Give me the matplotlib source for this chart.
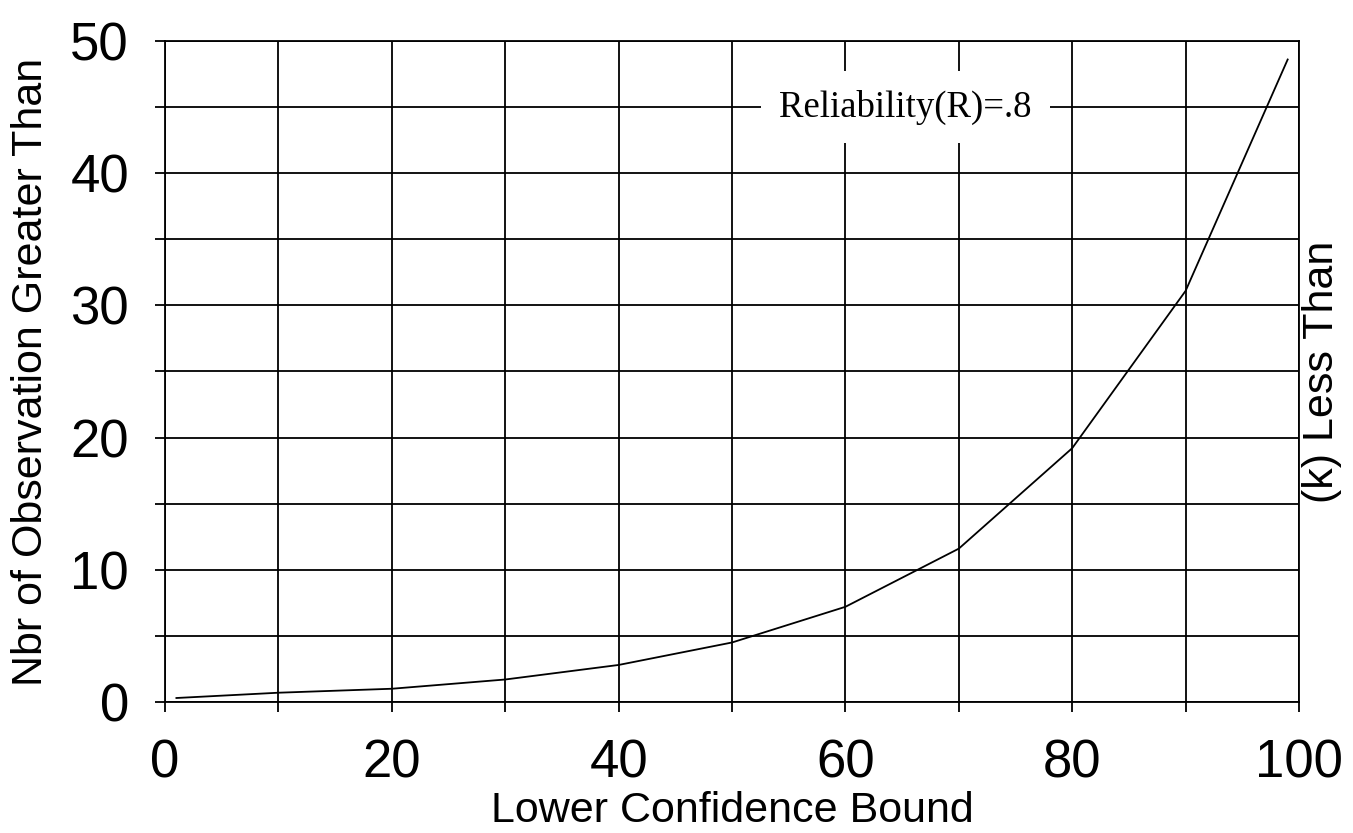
import matplotlib
matplotlib.use('Agg')
import matplotlib.pyplot as plt
from matplotlib.ticker import MultipleLocator

bound = [1, 10, 20, 30, 40, 50, 60, 70, 80, 90, 99]
nbr_obs = [0.3, 0.7, 1.0, 1.7, 2.8, 4.5, 7.2, 11.6, 19.2, 31.1, 48.6]

x_ticks = [0, 20, 40, 60, 80, 100]
y_ticks = [0, 10, 20, 30, 40, 50]

plt.rcParams['font.family'] = ['Liberation Sans', 'DejaVu Sans']

fig = plt.figure(figsize=(13.53, 8.33), dpi=100)
ax = fig.add_axes([0.122, 0.1573, 0.8381, 0.7935])

ax.plot(bound, nbr_obs, color='black', linewidth=1.3, zorder=3)

ax.set_xlim(0, 100)
ax.set_ylim(0, 50)
ax.set_xticks(x_ticks)
ax.set_yticks(y_ticks)
ax.xaxis.set_minor_locator(MultipleLocator(10))
ax.yaxis.set_minor_locator(MultipleLocator(5))
ax.grid(True, which='both', color='black', linewidth=1.3)
ax.set_axisbelow(True)
ax.tick_params(which='both', direction='out', length=7, width=1.3, color='black')
ax.tick_params(which='major', labelsize=38, pad=19)
for s in ax.spines.values():
    s.set_linewidth(1.3)

ax.set_xlabel('Lower Confidence Bound', fontsize=31, labelpad=2)
ax.set_ylabel('Nbr of Observation Greater Than', fontsize=31, labelpad=14)
fig.text(1322 / 1353, 1 - 372 / 833, '(k) Less Than', fontsize=31,
         rotation=90, ha='center', va='center')

ax.text(65.3, 45.0, 'Reliability(R)=.8', fontsize=26.5, family='Liberation Serif',
        ha='center', va='center', zorder=4,
        bbox=dict(facecolor='white', edgecolor='none', pad=13))

fig.savefig('out.png', dpi=100)
